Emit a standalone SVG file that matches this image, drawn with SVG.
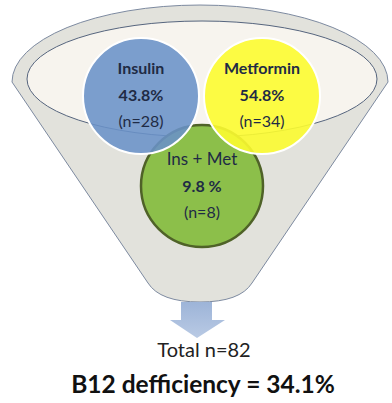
<svg xmlns="http://www.w3.org/2000/svg" width="392" height="403" viewBox="0 0 392 403">
<defs>
<style>
.lbl{font-family:Lato,"Open Sans","Liberation Sans",sans-serif;fill:#1f2b45;text-anchor:middle}
.b{font-weight:bold;font-size:16px}
.r{font-size:16px}
</style>
<linearGradient id="ag" x1="0" y1="0" x2="0" y2="1">
<stop offset="0" stop-color="#9db4d8"/>
<stop offset="1" stop-color="#b9cae4"/>
</linearGradient>
</defs>
<rect width="392" height="403" fill="#ffffff"/>
<g id="funnel">
<path d="M12,82 A188,77 0 0 1 388,82 L252,283 Q240,302 200,302 Q160,302 148,283 Z" fill="#e2e2dc" stroke="#7d8aa0" stroke-width="1"/>
<ellipse cx="202" cy="79" rx="175" ry="58" fill="#f7f4ee" stroke="#56657e" stroke-width="1"/>
</g>
<g id="insmet">
<circle cx="202" cy="186" r="61" fill="#8cbf4a" stroke="#4f6228" stroke-width="2.5"/>
</g>
<g id="insulin">
<circle cx="141" cy="96" r="58" fill="#6a92c8" fill-opacity="0.88" stroke="#ffffff" stroke-width="2"/>
</g>
<g id="metformin">
<circle cx="262" cy="96" r="58" fill="#fcfc30" fill-opacity="0.9" stroke="#ffffff" stroke-width="2"/>
</g>
<g id="texts">
<text class="lbl b" x="141" y="74">Insulin</text>
<text class="lbl b" x="141" y="101">43.8%</text>
<text class="lbl r" x="141" y="127">(n=28)</text>
<text class="lbl b" x="262" y="74">Metformin</text>
<text class="lbl b" x="262" y="101">54.8%</text>
<text class="lbl r" x="262" y="127">(n=34)</text>
<text class="lbl r" x="202" y="165" style="font-size:17px">Ins + Met</text>
<text class="lbl b" x="202" y="192">9.8 %</text>
<text class="lbl r" x="202" y="218">(n=8)</text>
</g>
<g id="connectors">
<path d="M181,302 L212,302 L212,320 L225,320 L197,338 L170,320 L181,320 Z" fill="url(#ag)"/>
</g>
<g id="result">
<text x="204" y="357" style="font-family:Lato,'Open Sans','Liberation Sans',sans-serif;font-size:20px;fill:#222;text-anchor:middle">Total n=82</text>
<text x="203" y="393" style="font-family:Lato,'Open Sans','Liberation Sans',sans-serif;font-size:24.5px;font-weight:bold;fill:#111;text-anchor:middle">B12 defficiency = 34.1%</text>
</g>
</svg>
